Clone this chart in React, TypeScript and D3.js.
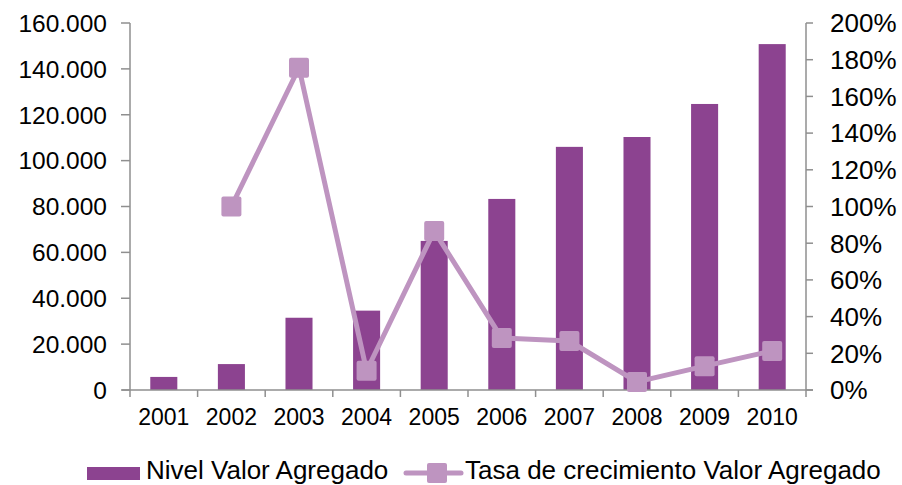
import React from "react";
import * as d3 from "d3";

const years = ["2001","2002","2003","2004","2005","2006","2007","2008","2009","2010"];
const nivel = [5700, 11300, 31500, 34600, 65000, 83300, 106000, 110300, 124700, 150800];
const tasa: (number | null)[] = [null, 1.0, 1.756, 0.105, 0.866, 0.283, 0.267, 0.044, 0.13, 0.213];
const leftTicks = [0, 20000, 40000, 60000, 80000, 100000, 120000, 140000, 160000];
const rightTicks = [0, 0.2, 0.4, 0.6, 0.8, 1.0, 1.2, 1.4, 1.6, 1.8, 2.0];
const seriesNames = ["Nivel Valor Agregado", "Tasa de crecimiento Valor Agregado"];

const W = 902, H = 485;
const M = { left: 130, right: 806, top: 23, bottom: 390 };
const BAR = "#8C4390";
const LINE = "#BE94C0";
const AXIS = "#8f8f8f";
const FONT = "'Liberation Sans', Arial, sans-serif";

export default function App() {
  const x = d3.scaleBand<string>().domain(years).range([M.left, M.right]).paddingInner(0.6).paddingOuter(0.3);
  const xCat = d3.scaleBand<string>().domain(years).range([M.left, M.right]);
  const yL = d3.scaleLinear().domain([0, 160000]).range([M.bottom, M.top]);
  const yR = d3.scaleLinear().domain([0, 2]).range([M.bottom, M.top]);
  const fmtL = (v: number) => (v === 0 ? "0" : d3.format(",")(v).replace(/,/g, "."));
  const fmtR = (v: number) => `${Math.round(v * 100)}%`;

  const pts = years
    .map((yr, i) => ({ yr, v: tasa[i] }))
    .filter((d) => d.v !== null) as { yr: string; v: number }[];
  const line = d3
    .line<{ yr: string; v: number }>()
    .x((d) => (xCat(d.yr) as number) + xCat.bandwidth() / 2)
    .y((d) => yR(d.v));

  const ms = 20;
  return (
    <svg width={W} height={H} style={{ position: "absolute", left: 0, top: 0, background: "#fff" }} fontFamily={FONT}>
      <rect width={W} height={H} fill="#fff" />
      {years.map((yr, i) => (
        <rect key={yr} x={x(yr)} y={yL(nivel[i])} width={x.bandwidth()} height={M.bottom - yL(nivel[i])} fill={BAR} />
      ))}
      <line x1={M.left} x2={M.left} y1={M.top} y2={M.bottom} stroke={AXIS} strokeWidth={1.5} />
      <line x1={M.right} x2={M.right} y1={M.top} y2={M.bottom} stroke={AXIS} strokeWidth={1.5} />
      <line x1={M.left - 8} x2={M.right + 7} y1={M.bottom} y2={M.bottom} stroke={AXIS} strokeWidth={1.5} />
      {leftTicks.map((t) => (
        <g key={"l" + t}>
          <line x1={M.left - 9} x2={M.left} y1={yL(t)} y2={yL(t)} stroke={AXIS} strokeWidth={1.5} />
          <text x={107} y={yL(t)} dy="0.36em" textAnchor="end" fontSize={24.5} fill="#000">{fmtL(t)}</text>
        </g>
      ))}
      {rightTicks.map((t) => (
        <g key={"r" + t}>
          <line x1={M.right} x2={M.right + 7} y1={yR(t)} y2={yR(t)} stroke={AXIS} strokeWidth={1.5} />
          <text x={830} y={yR(t)} dy="0.36em" textAnchor="start" fontSize={26} fill="#000">{fmtR(t)}</text>
        </g>
      ))}
      {years.map((yr) => (
        <g key={"x" + yr}>
          <line x1={xCat(yr)} x2={xCat(yr)} y1={M.bottom} y2={M.bottom + 7} stroke={AXIS} strokeWidth={1.5} />
          <text x={(xCat(yr) as number) + xCat.bandwidth() / 2} y={425} textAnchor="middle" fontSize={23} fill="#000">{yr}</text>
        </g>
      ))}
      <line x1={M.right} x2={M.right} y1={M.bottom} y2={M.bottom + 7} stroke={AXIS} strokeWidth={1.5} />
      <path d={line(pts) || ""} fill="none" stroke={LINE} strokeWidth={5} strokeLinejoin="round" />
      {pts.map((d) => (
        <rect key={"m" + d.yr} x={(xCat(d.yr) as number) + xCat.bandwidth() / 2 - ms / 2} y={yR(d.v) - ms / 2} width={ms} height={ms} rx={2} fill={LINE} />
      ))}
      <rect x={87} y={467} width={53} height={13} fill={BAR} />
      <text x={146} y={479} fontSize={26} fill="#000">{seriesNames[0]}</text>
      <line x1={406} x2={461} y1={473} y2={473} stroke={LINE} strokeWidth={5} strokeLinecap="round" />
      <rect x={427} y={463} width={20} height={20} rx={2} fill={LINE} />
      <text x={465} y={479} fontSize={26} fill="#000">{seriesNames[1]}</text>
    </svg>
  );
}
